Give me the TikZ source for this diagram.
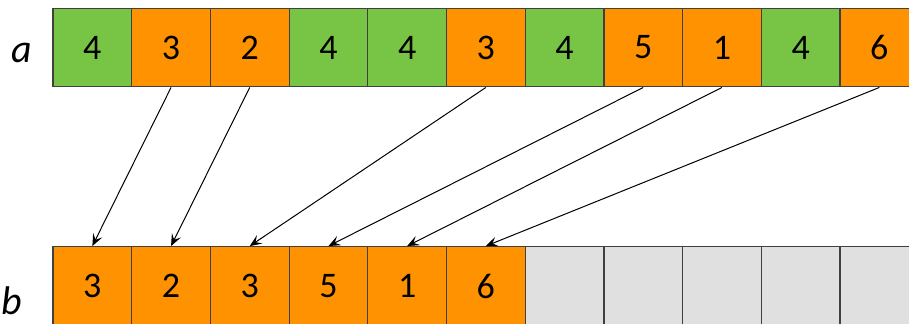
\documentclass[tikz,border=0pt]{standalone}
\usepackage{fontspec}
\setmainfont{Carlito}
\usepackage{xcolor}
\usetikzlibrary{arrows.meta}

\definecolor{cellgreen}{HTML}{78C445}
\definecolor{cellorange}{HTML}{FF9200}
\definecolor{cellgray}{HTML}{E0E0E0}

\tikzset{
    cell/.style={draw=black!75, line width=0.6pt, minimum size=39.35pt, inner sep=0pt, font=\fontsize{18}{21}\selectfont},
    link/.style={-{Stealth[length=6pt, width=5pt, inset=2.5pt]}, line width=0.5pt},
    rowlabel/.style={anchor=base, font=\fontsize{20}{24}\selectfont\itshape}
}

\begin{document}
\begin{tikzpicture}[x=0.5pt, y=0.5pt]
        % 1. Picture frame (the last cells run off the edge)
        \clip (0,0) rectangle (909,323);

        % 2. Row labels
        \node[rowlabel] (la) at (22,261) {a};
        \node[rowlabel] (lb) at (12,9) {b};

        % 3. Array a (green cells hold 4)
        \foreach \v [count=\i from 0] in {4,3,2,4,4,3,4,5,1,4,6}{
            \ifnum\v=4 \def\c{cellgreen}\else \def\c{cellorange}\fi
            \node[cell, fill=\c] (a\i) at ({53+78.7*(\i+0.5)}, 275.5) {\v};
        }

        % 4. Array b (filled part, then free slots)
        \foreach \v [count=\i from 0] in {3,2,3,5,1,6}{
            \node[cell, fill=cellorange] (b\i) at ({53+78.7*(\i+0.5)}, 37) {\v};
        }
        \foreach \i in {6,...,10}{
            \node[cell, fill=cellgray] (b\i) at ({53+78.7*(\i+0.5)}, 37) {};
        }

        % 5. Copy arrows from a to b
        \foreach \s/\t in {1/0, 2/1, 5/2, 7/3, 8/4, 10/5}{
            \draw[link] (a\s.south) -- (b\t.north);
        }
\end{tikzpicture}
\end{document}
